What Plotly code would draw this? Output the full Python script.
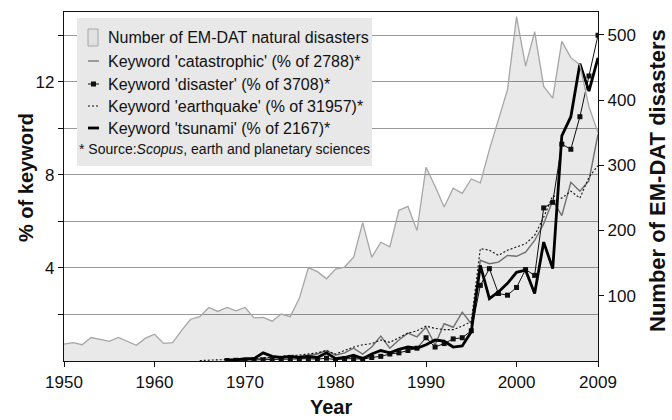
import plotly.graph_objects as go

# ---------------- data ----------------
years = list(range(1950, 2010))
emdat = [26, 28, 25, 36, 33, 30, 36, 30, 24, 35,
         41, 27, 28, 47, 64, 68, 82, 76, 82, 77,
         82, 66, 67, 61, 72, 68, 96, 143, 137, 126,
         141, 144, 159, 212, 159, 182, 175, 231, 237, 200,
         297, 268, 236, 265, 257, 279, 273, 324, 370, 416,
         528, 452, 505, 421, 403, 490, 465, 454, 390, 350]

kw_years = list(range(1968, 2010))
catastrophic = [0.05, 0.05, 0.05, 0.1, 0.1, 0.15, 0.15, 0.2, 0.2, 0.25,
                0.3, 0.45, 0.25, 0.35, 0.55, 0.3, 0.6, 1.07, 0.55, 0.9,
                1.2, 1.04, 1.45, 0.7, 1.6, 1.45, 2.1, 1.6, 4.33, 4.18,
                4.25, 4.54, 4.5, 4.68, 5.18, 5.9, 6.9, 6.25, 7.68, 7.3,
                7.75, 9.75]
disaster = [0.02, 0.03, 0.02, 0.05, 0.05, 0.05, 0.08, 0.08, 0.1, 0.1,
            0.08, 0.12, 0.05, 0.1, 0.1, 0.08, 0.15, 0.2, 0.3, 0.35,
            0.45, 0.55, 1.0, 0.6, 0.75, 0.95, 1.0, 1.3, 3.25, 3.97,
            2.9, 2.83, 3.16, 3.93, 3.68, 6.58, 6.82, 9.32, 9.1, 10.5,
            12.25, 14.0]
tsunami = [0.05, 0.05, 0.1, 0.1, 0.35, 0.2, 0.15, 0.2, 0.15, 0.2,
           0.15, 0.35, 0.1, 0.15, 0.25, 0.1, 0.3, 0.45, 0.35, 0.5,
           0.6, 0.55, 0.7, 0.9, 0.85, 0.6, 0.65, 1.26, 4.11, 2.68,
           2.97, 3.34, 3.81, 3.9, 2.9, 5.11, 3.97, 9.68, 10.5, 12.78,
           11.6, 13.03]
eq_years = list(range(1965, 2010))
earthquake = [0.02, 0.03, 0.03,
              0.05, 0.08, 0.1, 0.1, 0.15, 0.15, 0.2, 0.25, 0.25, 0.3,
              0.35, 0.45, 0.3, 0.45, 0.6, 0.7, 0.75, 0.9, 0.8, 1.0,
              1.2, 1.3, 1.5, 1.4, 1.35, 1.35, 1.5, 1.7, 4.83, 4.76,
              4.54, 4.76, 4.9, 5.04, 5.4, 6.18, 7.1, 7.0, 7.3, 7.0,
              7.9, 8.4]

x_ticks = [1950, 1960, 1970, 1980, 1990, 2000, 2009]
left_ticks = [2, 4, 6, 8, 10, 12, 14]
left_labels = ["", "4", "", "8", "", "12", ""]
right_ticks = [100, 200, 300, 400, 500]

legend_labels = ["Number of EM-DAT natural disasters",
                 "Keyword 'catastrophic' (% of 2788)*",
                 "Keyword 'disaster' (% of 3708)*",
                 "Keyword 'earthquake' (% of 31957)*",
                 "Keyword 'tsunami' (% of 2167)*"]
source_text = "* Source:<i>Scopus</i>, earth and planetary sciences"

FONT = "Liberation Sans, Arial, Helvetica, sans-serif"

# ---------------- geometry helpers ----------------
W, H = 672, 420
L, R, T, B = 64, 74, 12, 59
PW, PH = W - L - R, H - T - B


def px(x):
    return (x - L) / PW


def py(y):
    return (H - B - y) / PH


DOT = "2px,2px"

fig = go.Figure()

fig.add_trace(go.Scatter(x=years, y=emdat, yaxis="y2", mode="lines",
                         line=dict(color="#a6a6a6", width=1.3),
                         fill="tozeroy", fillcolor="rgba(0,0,0,0.085)"))
fig.add_trace(go.Scatter(x=kw_years, y=catastrophic, mode="lines",
                         line=dict(color="#7a7a7a", width=1.4)))
fig.add_trace(go.Scatter(x=eq_years, y=earthquake, mode="lines",
                         line=dict(color="#111", width=1.1, dash=DOT)))
fig.add_trace(go.Scatter(x=kw_years, y=disaster, mode="lines+markers",
                         line=dict(color="#111", width=1),
                         marker=dict(symbol="square", size=5, color="#111")))
fig.add_trace(go.Scatter(x=kw_years, y=tsunami, mode="lines",
                         line=dict(color="#000", width=2.8)))

shapes = []
annotations = []

# legend box
shapes.append(dict(type="rect", xref="paper", yref="paper",
                   x0=px(77), x1=px(372), y0=py(166), y1=py(18),
                   fillcolor="#e8e8e8", line=dict(width=0), layer="above"))
# legend symbols
shapes.append(dict(type="rect", xref="paper", yref="paper",
                   x0=px(88), x1=px(98), y0=py(46), y1=py(29),
                   fillcolor="#e2e2e2", line=dict(color="#a6a6a6", width=1),
                   layer="above"))
sym_y = [61, 84, 106, 128]
sym_style = [dict(color="#7a7a7a", width=1.4),
             dict(color="#111", width=1),
             dict(color="#111", width=1.1, dash=DOT),
             dict(color="#000", width=2.8)]
for yy, st in zip(sym_y, sym_style):
    shapes.append(dict(type="line", xref="paper", yref="paper",
                       x0=px(88), x1=px(99), y0=py(yy), y1=py(yy),
                       line=st, layer="above"))
shapes.append(dict(type="rect", xref="paper", yref="paper",
                   x0=px(91), x1=px(96), y0=py(86.5), y1=py(81.5),
                   fillcolor="#111", line=dict(width=0), layer="above"))

text_y = [38, 61, 84, 106, 128]
for t, yy in zip(legend_labels, text_y):
    annotations.append(dict(text=t, xref="paper", yref="paper",
                            x=px(106), y=py(yy), xanchor="left", yanchor="middle",
                            showarrow=False, font=dict(family=FONT, size=16, color="#111")))
annotations.append(dict(text=source_text, xref="paper", yref="paper",
                        x=px(77), y=py(149), xanchor="left", yanchor="middle",
                        showarrow=False, font=dict(family=FONT, size=14, color="#111")))

# axis titles
annotations.append(dict(text="<b>Year</b>", xref="paper", yref="paper",
                        x=0.5, y=py(407), xanchor="center", yanchor="middle",
                        showarrow=False, font=dict(family=FONT, size=20, color="#111")))
annotations.append(dict(text="<b>% of keyword</b>", xref="paper", yref="paper",
                        x=px(26), y=py(178), xanchor="center", yanchor="middle",
                        textangle=-90, showarrow=False,
                        font=dict(family=FONT, size=20, color="#111")))
annotations.append(dict(text="<b>Number of EM-DAT disasters</b>", xref="paper", yref="paper",
                        x=px(657), y=py(181), xanchor="center", yanchor="middle",
                        textangle=-90, showarrow=False,
                        font=dict(family=FONT, size=22, color="#111")))

fig.update_layout(
    width=W, height=H,
    margin=dict(l=L, r=R, t=T, b=B, autoexpand=False),
    paper_bgcolor="white", plot_bgcolor="white",
    showlegend=False,
    font=dict(family=FONT, size=17, color="#111"),
    xaxis=dict(range=[1950, 2009], tickvals=x_ticks, ticks="outside", ticklen=5,
               tickcolor="#111", showline=True, mirror=True, linecolor="#111",
               linewidth=1.3, showgrid=False, zeroline=False,
               tickfont=dict(size=17)),
    yaxis=dict(range=[0, 15], tickvals=left_ticks, ticktext=left_labels,
               ticks="outside", ticklen=5, tickcolor="#111",
               showline=True, mirror=True, linecolor="#111", linewidth=1.3,
               showgrid=True, gridcolor="#9a9a9a", gridwidth=1, zeroline=False,
               tickfont=dict(size=17)),
    yaxis2=dict(range=[0, 535], tickvals=right_ticks, overlaying="y", side="right",
                ticks="outside", ticklen=5, tickcolor="#111",
                showline=True, linecolor="#111", linewidth=1.3,
                showgrid=False, zeroline=False, tickfont=dict(size=17)),
    shapes=shapes,
    annotations=annotations,
)

fig.write_html("out.html")
